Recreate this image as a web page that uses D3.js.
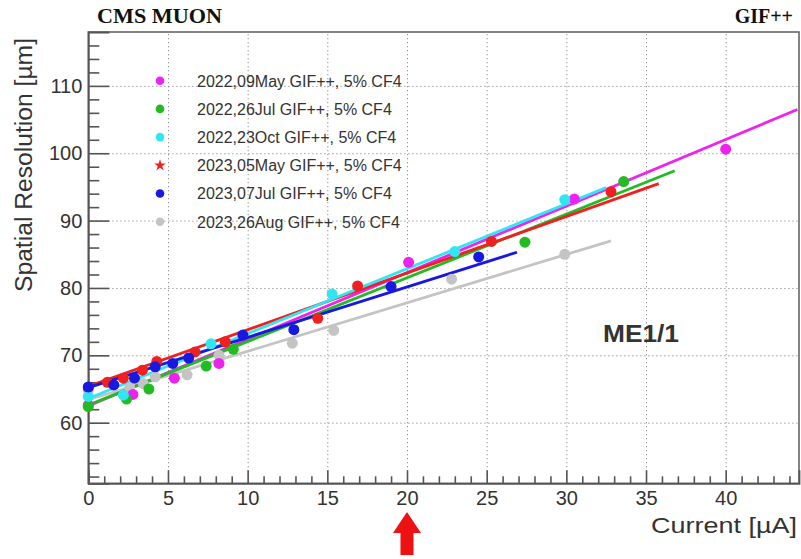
<!DOCTYPE html>
<html>
<head>
<meta charset="utf-8">
<script src="https://cdn.jsdelivr.net/npm/d3@7"></script>
<style>
  body { margin: 0; background: #fff; }
  svg { display: block; }
</style>
</head>
<body>
<script>
// legend labels + colours, same order as legend
const labels = [
  '2022,09May GIF++, 5% CF4',
  '2022,26Jul GIF++, 5% CF4',
  '2022,23Oct GIF++, 5% CF4',
  '2023,05May GIF++, 5% CF4',
  '2023,07Jul GIF++, 5% CF4',
  '2023,26Aug GIF++, 5% CF4'
];
const colors = ['#ee22ee', '#22bb22', '#30e6f2', '#ee2020', '#1818e0', '#c4c4c4'];

// measured points (current uA, resolution um)
const may22X = [0, 2.8, 5.4, 8.2, 20.1, 30.5, 40];
const may22Y = [62.6, 64.2, 66.6, 68.8, 83.8, 93.2, 100.6];
const jul22X = [0, 2.4, 3.8, 7.4, 9.1, 27.4, 33.6];
const jul22Y = [62.4, 63.5, 65.0, 68.4, 70.9, 86.8, 95.8];
const oct22X = [0, 2.2, 7.7, 15.3, 23.0, 29.9];
const oct22Y = [63.9, 64.1, 71.7, 79.1, 85.4, 93.1];
const may23X = [0, 1.2, 2.2, 3.4, 4.3, 6.7, 8.6, 14.4, 16.9, 25.3, 32.8];
const may23Y = [65.2, 66.0, 66.6, 67.8, 69.1, 70.5, 72.0, 75.5, 80.3, 86.9, 94.3];
const jul23X = [0, 1.6, 2.9, 4.2, 5.3, 6.3, 9.7, 12.9, 19.0, 24.5];
const jul23Y = [65.3, 65.6, 66.6, 68.3, 68.8, 69.6, 73.0, 73.8, 80.2, 84.6];
const aug23X = [0, 2.6, 3.45, 4.2, 6.2, 8.2, 12.8, 15.4, 22.8, 29.9];
const aug23Y = [64.8, 65.2, 65.8, 66.8, 67.1, 70.0, 71.8, 73.7, 81.3, 85.0];

// linear fit end points
const fitX0 = [0, 0, 0, 0, 0, 0];
const fitX1 = [44.5, 36.8, 32.5, 35.8, 26.9, 32.8];
const fitY0 = [62.5, 62.6, 63.6, 65.4, 65.2, 63.4];
const fitY1 = [106.5, 97.4, 94.9, 95.5, 85.3, 87.0];

// axis ticks
const xMajor = [0, 5, 10, 15, 20, 25, 30, 35, 40];
const yMajor = [60, 70, 80, 90, 100, 110];
const xMinor = d3.range(1, 45).filter(v => v % 5 !== 0);
const yMinor = d3.range(52, 118, 2).filter(v => v % 10 !== 0);

const pointsX = [may22X, jul22X, oct22X, may23X, jul23X, aug23X];
const pointsY = [may22Y, jul22Y, oct22Y, may23Y, jul23Y, aug23Y];

const W = 801, H = 559;
const pLeft = 88.3, pRight = 799, pTop = 32, pBottom = 483.3;

const svg = d3.select('body').append('svg')
  .attr('width', W)
  .attr('height', H);

const x = d3.scaleLinear().domain([0, 44.6]).range([pLeft, pRight]);
const y = d3.scaleLinear().domain([51, 118]).range([pBottom, pTop]);

// dotted grid
svg.append('g')
  .attr('transform', `translate(0,${pBottom})`)
  .call(d3.axisBottom(x).tickValues(xMajor.slice(1)).tickSize(-(pBottom - pTop)).tickFormat(''))
  .call(g => g.select('.domain').remove())
  .selectAll('line')
  .attr('stroke', '#8a8a8a').attr('stroke-dasharray', '1.2,2.8');

svg.append('g')
  .attr('transform', `translate(${pLeft},0)`)
  .call(d3.axisLeft(y).tickValues(yMajor).tickSize(-(pRight - pLeft)).tickFormat(''))
  .call(g => g.select('.domain').remove())
  .selectAll('line')
  .attr('stroke', '#8a8a8a').attr('stroke-dasharray', '1.2,2.8');

// frame
svg.append('rect')
  .attr('x', pLeft).attr('y', pTop)
  .attr('width', pRight - pLeft).attr('height', pBottom - pTop)
  .attr('fill', 'none').attr('stroke', '#666').attr('stroke-width', 1.6);

// axes (ROOT style: ticks inside)
const xAxis = svg.append('g')
  .attr('transform', `translate(0,${pBottom})`)
  .call(d3.axisBottom(x).tickValues(xMajor).tickSize(-13).tickPadding(8));
svg.append('g')
  .attr('transform', `translate(0,${pBottom})`)
  .call(d3.axisBottom(x).tickValues(xMinor).tickSize(-7).tickFormat(''))
  .call(g => g.select('.domain').remove());

const yAxis = svg.append('g')
  .attr('transform', `translate(${pLeft},0)`)
  .call(d3.axisLeft(y).tickValues(yMajor).tickSize(-21).tickPadding(6));
svg.append('g')
  .attr('transform', `translate(${pLeft},0)`)
  .call(d3.axisLeft(y).tickValues(yMinor).tickSize(-11).tickFormat(''))
  .call(g => g.select('.domain').remove());

svg.selectAll('.tick line').filter(function() { return !this.getAttribute('stroke-dasharray'); })
  .attr('stroke', '#555').attr('stroke-width', 1.6);
svg.selectAll('.domain').attr('stroke', '#555').attr('stroke-width', 1.8);
[xAxis, yAxis].forEach(a => a.selectAll('text')
  .attr('font-family', 'Liberation Sans, Arial, sans-serif')
  .attr('font-size', 20)
  .attr('fill', '#333'));

// fits and points, drawn back to front
const drawOrder = [5, 0, 1, 3, 2, 4];
drawOrder.forEach(i => {
  svg.append('line')
    .attr('x1', x(fitX0[i])).attr('y1', y(fitY0[i]))
    .attr('x2', x(fitX1[i])).attr('y2', y(fitY1[i]))
    .attr('stroke', colors[i]).attr('stroke-width', 2.8);
});
drawOrder.forEach(i => {
  svg.append('g').selectAll('circle')
    .data(pointsX[i].map((v, k) => [v, pointsY[i][k]]))
    .enter().append('circle')
    .attr('cx', d => x(d[0]))
    .attr('cy', d => y(d[1]))
    .attr('r', 5.5)
    .attr('fill', colors[i]);
});

// legend
const legend = svg.append('g');
labels.forEach((lab, i) => {
  const ly = 80.7 + 28.2 * i;
  if (i === 3) {
    legend.append('path')
      .attr('d', d3.symbol(d3.symbolStar, 42)())
      .attr('transform', `translate(160,${ly})`)
      .attr('fill', colors[i]);
  } else {
    legend.append('circle')
      .attr('cx', 160).attr('cy', ly).attr('r', 4.3)
      .attr('fill', colors[i]);
  }
  legend.append('text')
    .attr('x', 197).attr('y', ly + 5.8)
    .attr('font-family', 'Liberation Sans, Arial, sans-serif')
    .attr('font-size', 16)
    .attr('fill', '#333')
    .text(lab);
});

// titles
svg.append('text')
  .attr('x', 797).attr('y', 533)
  .attr('text-anchor', 'end')
  .attr('font-family', 'Liberation Sans, Arial, sans-serif')
  .attr('font-size', 22)
  .attr('fill', '#333')
  .attr('textLength', 146).attr('lengthAdjust', 'spacingAndGlyphs')
  .text('Current [µA]');

svg.append('text')
  .attr('transform', 'translate(32,38) rotate(-90)')
  .attr('text-anchor', 'end')
  .attr('font-family', 'Liberation Sans, Arial, sans-serif')
  .attr('font-size', 23)
  .attr('fill', '#333')
  .attr('textLength', 254).attr('lengthAdjust', 'spacingAndGlyphs')
  .text('Spatial Resolution [µm]');

svg.append('text')
  .attr('x', 97).attr('y', 23)
  .attr('font-family', 'Liberation Serif, Times New Roman, serif')
  .attr('font-weight', 'bold')
  .attr('font-size', 20)
  .attr('fill', '#111')
  .attr('textLength', 125).attr('lengthAdjust', 'spacingAndGlyphs')
  .text('CMS MUON');

svg.append('text')
  .attr('x', 793).attr('y', 23)
  .attr('text-anchor', 'end')
  .attr('font-family', 'Liberation Serif, Times New Roman, serif')
  .attr('font-weight', 'bold')
  .attr('font-size', 20)
  .attr('fill', '#111')
  .text('GIF++');

svg.append('text')
  .attr('x', 603).attr('y', 342)
  .attr('font-family', 'Liberation Sans, Arial, sans-serif')
  .attr('font-weight', 'bold')
  .attr('font-size', 24)
  .attr('fill', '#333')
  .attr('textLength', 76).attr('lengthAdjust', 'spacingAndGlyphs')
  .text('ME1/1');

// red arrow under 20 uA
const ax = x(20);
svg.append('path')
  .attr('d', `M${ax},512 L${ax + 14},533 L${ax + 6.5},533 L${ax + 6.5},555 L${ax - 6.5},555 L${ax - 6.5},533 L${ax - 14},533 Z`)
  .attr('fill', '#ee1111');
</script>
</body>
</html>
